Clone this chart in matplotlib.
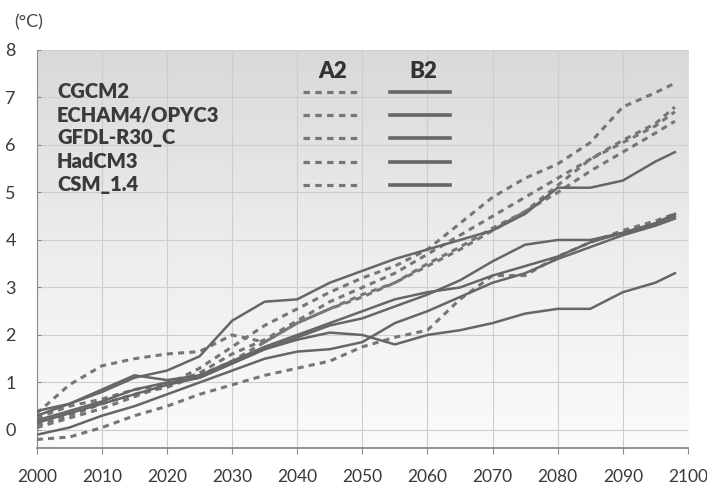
import numpy as np
import matplotlib
matplotlib.use("Agg")
import matplotlib.pyplot as plt
from matplotlib.colors import LinearSegmentedColormap
from matplotlib.lines import Line2D

plt.rcParams['font.family'] = ['Lato', 'DejaVu Sans']

# data
years = [2000, 2005, 2010, 2015, 2020, 2025, 2030, 2035, 2040, 2045, 2050,
         2055, 2060, 2065, 2070, 2075, 2080, 2085, 2090, 2095, 2098]
models = ["CGCM2", "ECHAM4/OPYC3", "GFDL-R30_C", "HadCM3", "CSM_1.4"]

# A2 scenario (dotted)
a2_cgcm2 = [0.05, 0.25, 0.45, 0.7, 0.95, 1.3, 1.75, 2.2, 2.55, 2.9, 3.2,
            3.45, 3.8, 4.35, 4.9, 5.3, 5.6, 6.05, 6.8, 7.1, 7.3]
a2_echam = [0.25, 0.5, 0.65, 0.85, 0.95, 1.2, 1.6, 1.9, 2.3, 2.7, 3.0,
            3.3, 3.7, 4.1, 4.5, 4.9, 5.3, 5.7, 6.1, 6.45, 6.8]
a2_gfdl = [0.35, 0.95, 1.35, 1.5, 1.6, 1.65, 2.0, 1.85, 2.25, 2.55, 2.8,
           3.1, 3.45, 3.8, 4.2, 4.6, 5.0, 5.45, 5.85, 6.25, 6.5]
a2_hadcm3 = [0.1, 0.3, 0.55, 0.75, 0.9, 1.15, 1.45, 1.85, 2.25, 2.55, 2.85,
             3.1, 3.5, 3.85, 4.25, 4.6, 5.15, 5.7, 6.05, 6.4, 6.7]
a2_csm = [-0.2, -0.15, 0.05, 0.3, 0.5, 0.75, 0.95, 1.15, 1.3, 1.45, 1.75,
          1.95, 2.1, 2.75, 3.25, 3.25, 3.65, 3.95, 4.2, 4.4, 4.55]

# B2 scenario (solid)
b2_cgcm2 = [0.4, 0.55, 0.8, 1.1, 1.25, 1.55, 2.3, 2.7, 2.75, 3.1, 3.35,
            3.6, 3.8, 4.0, 4.2, 4.55, 5.1, 5.1, 5.25, 5.65, 5.85]
b2_echam = [0.3, 0.55, 0.85, 1.15, 1.05, 1.15, 1.45, 1.75, 2.0, 2.25, 2.5,
            2.75, 2.9, 3.0, 3.25, 3.45, 3.65, 3.95, 4.15, 4.35, 4.5]
b2_gfdl = [0.2, 0.4, 0.6, 0.85, 1.0, 1.1, 1.4, 1.7, 1.95, 2.2, 2.35,
           2.6, 2.85, 3.15, 3.55, 3.9, 4.0, 4.0, 4.15, 4.35, 4.55]
b2_hadcm3 = [-0.1, 0.05, 0.3, 0.5, 0.75, 1.0, 1.25, 1.5, 1.65, 1.7, 1.85,
             2.25, 2.5, 2.8, 3.1, 3.3, 3.6, 3.85, 4.1, 4.3, 4.45]
b2_csm = [0.15, 0.35, 0.55, 0.75, 0.95, 1.1, 1.4, 1.7, 1.9, 2.05, 2.0,
          1.8, 2.0, 2.1, 2.25, 2.45, 2.55, 2.55, 2.9, 3.1, 3.3]

a2 = [a2_cgcm2, a2_echam, a2_gfdl, a2_hadcm3, a2_csm]
b2 = [b2_cgcm2, b2_echam, b2_gfdl, b2_hadcm3, b2_csm]

xticks = list(range(2000, 2101, 10))
yticks = list(range(0, 9))

fig = plt.figure(figsize=(7.07, 4.90), dpi=100)
ax = fig.add_axes([0.052, 0.0857, 0.921, 0.8123])

ymin, ymax = -0.38, 8.0
cmap = LinearSegmentedColormap.from_list("bg", ["#fbfbfb", "#ededed", "#d9d9d9"])
ax.imshow(np.linspace(0, 1, 256).reshape(-1, 1), extent=[2000, 2100, ymin, ymax],
          aspect="auto", origin="lower", cmap=cmap, zorder=0)

dash_col = "#767676"
solid_col = "#666666"
for s in a2:
    ax.plot(years, s, color=dash_col, lw=2.2, ls=(0, (2.0, 1.7)), zorder=3)
for s in b2:
    ax.plot(years, s, color=solid_col, lw=1.8, zorder=4)

ax.set_xlim(2000, 2100)
ax.set_ylim(ymin, ymax)
ax.set_xticks(xticks)
ax.set_yticks(yticks)
ax.grid(color="#cdcdcd", lw=0.8)
ax.set_axisbelow(True)
for g in ax.get_xgridlines() + ax.get_ygridlines():
    g.set_zorder(1)

for sp in ["top", "right"]:
    ax.spines[sp].set_visible(False)
ax.spines["left"].set_color("#8a8a8a")
ax.spines["bottom"].set_color("#8a8a8a")
ax.spines["bottom"].set_linewidth(1.3)
ax.tick_params(axis="x", direction="out", length=4, color="#8a8a8a",
               labelsize=12.5, labelcolor="#3a3a3a", pad=11)
ax.tick_params(axis="y", direction="in", length=3, color="#8a8a8a",
               labelsize=13, labelcolor="#3a3a3a", pad=15)

fig.text(0.02, 0.955, "(°C)", fontsize=13, color="#444444", va="center")

# legend block
row_y = [0.8945, 0.8367, 0.7789, 0.7186, 0.6608]
for name, y, da, sb in zip(models, row_y, a2, b2):
    ax.text(0.031, y, name, transform=ax.transAxes, fontsize=14.5,
            fontweight="heavy", color="#3a3a3a", va="center", zorder=6)
    ax.add_line(Line2D([0.4086, 0.4962], [y, y], transform=ax.transAxes,
                       color=dash_col, lw=2.3, ls=(0, (2.0, 1.7)), zorder=6))
    ax.add_line(Line2D([0.5422, 0.6344], [y, y], transform=ax.transAxes,
                       color=solid_col, lw=2.6, zorder=6))
ax.text(0.4547, 0.9447, "A2", transform=ax.transAxes, fontsize=16,
        fontweight="heavy", color="#333333", ha="center", va="center")
ax.text(0.593, 0.9447, "B2", transform=ax.transAxes, fontsize=16,
        fontweight="heavy", color="#333333", ha="center", va="center")

fig.savefig("out.png", dpi=100)
